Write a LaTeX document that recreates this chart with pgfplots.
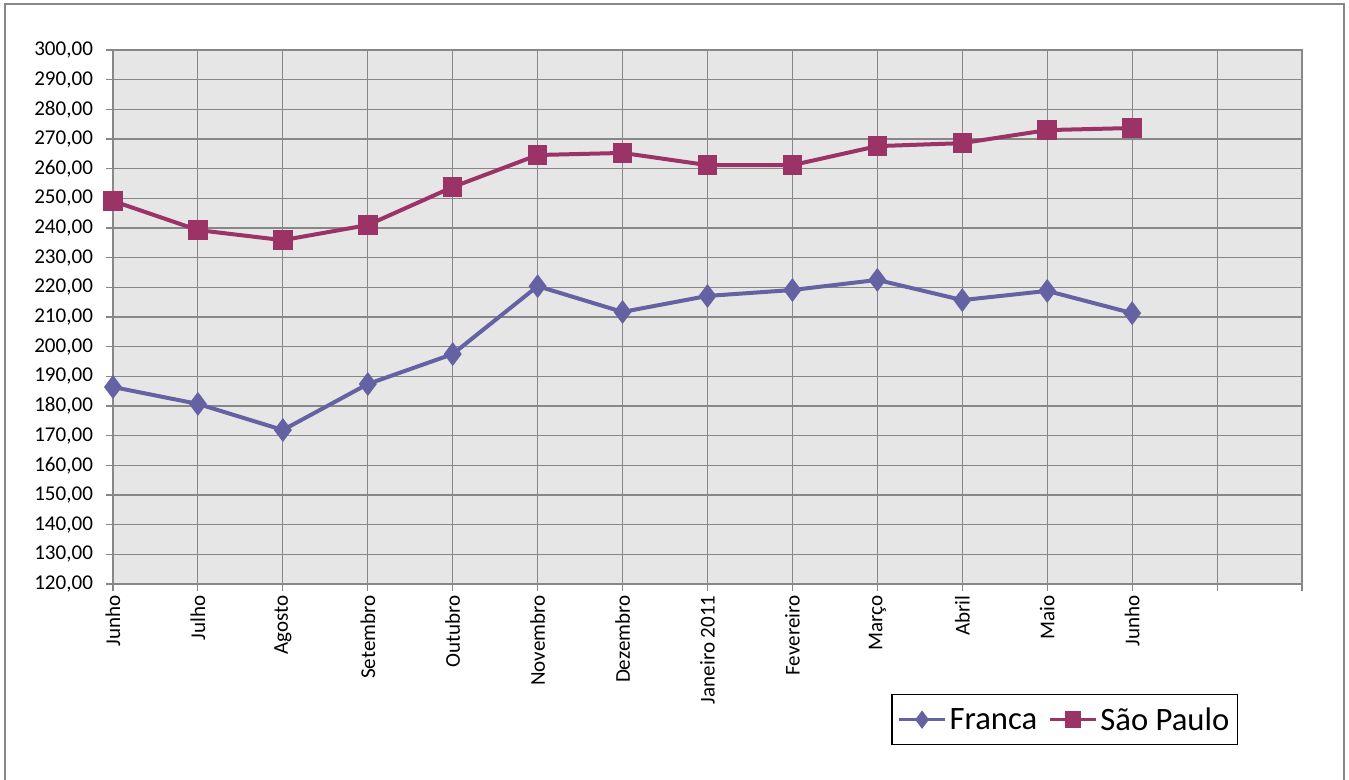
\documentclass[border=0pt]{standalone}
\usepackage{pgfplots}
\pgfplotsset{compat=1.18}
\usepackage{fontspec}
\setmainfont{Carlito}
\definecolor{franca}{HTML}{6462A2}
\definecolor{sp}{HTML}{9B3366}
\definecolor{gridc}{HTML}{878787}
\definecolor{bgc}{HTML}{E6E6E6}
\begin{document}
\begin{tikzpicture}
\path[use as bounding box] (0,0) rectangle (1011.75pt,584.25pt);
\draw[gridc,line width=1pt] (3.75pt,-5pt) -- (3.75pt,581.25pt) -- (1008pt,581.25pt) -- (1008pt,-5pt);
\begin{axis}[
  at={(84.75pt,146.25pt)}, anchor=south west,
  width=891.75pt, height=400.5pt, scale only axis,
  xmin=0, xmax=14, ymin=120, ymax=300,
  xtick={0,...,14},
  xticklabels={Junho,Julho,Agosto,Setembro,Outubro,Novembro,Dezembro,Janeiro 2011,Fevereiro,Março,Abril,Maio,Junho,{},{}},
  ytick distance=10,
  tick pos=left, tick align=outside, major tick length=5pt,
  every tick/.style={gridc, line width=0.85pt},
  grid=major, grid style={gridc, line width=0.85pt},
  axis line style={gridc, line width=0.85pt},
  axis background/.style={fill=bgc},
  /pgf/number format/.cd, use comma, fixed, fixed zerofill, precision=2, 1000 sep={}, assume math mode=true,
  /pgfplots/.cd,
  ticklabel style={font=\fontsize{15.8}{18}\selectfont},
  xticklabel style={rotate=90, anchor=east},
  yticklabel style={xshift=-6.5pt},
  legend columns=2,
  legend cell align=left,
  legend style={at={(0.6545,-0.206)}, anchor=north west, draw=black, line width=1pt,
    font=\fontsize{24.5}{28}\selectfont, inner xsep=4pt, inner ysep=7.5pt,
    /tikz/every even column/.append style={column sep=6pt}},
  legend image code/.code={\draw[mark repeat=2,mark phase=2,#1,line width=2.3pt,mark size=5pt] plot coordinates {(0pt,0pt)(17.5pt,0pt)(35pt,0pt)};},
]
\addplot[franca, line width=3pt, mark=diamond*, mark size=6.5pt, mark options={solid}] coordinates {
(0,186.4) (1,180.7) (2,171.9) (3,187.4) (4,197.5) (5,220.4) (6,211.7) (7,217.1) (8,219.1) (9,222.5) (10,215.7) (11,218.8) (12,211.3)};
\addlegendentry{Franca}
\addplot[sp, line width=3pt, mark=square*, mark size=5.8pt, mark options={solid}] coordinates {
(0,249.1) (1,239.3) (2,235.9) (3,241.0) (4,253.8) (5,264.6) (6,265.3) (7,261.2) (8,261.2) (9,267.6) (10,268.6) (11,273.0) (12,273.7)};
\addlegendentry{São Paulo}
\end{axis}
\end{tikzpicture}
\end{document}
